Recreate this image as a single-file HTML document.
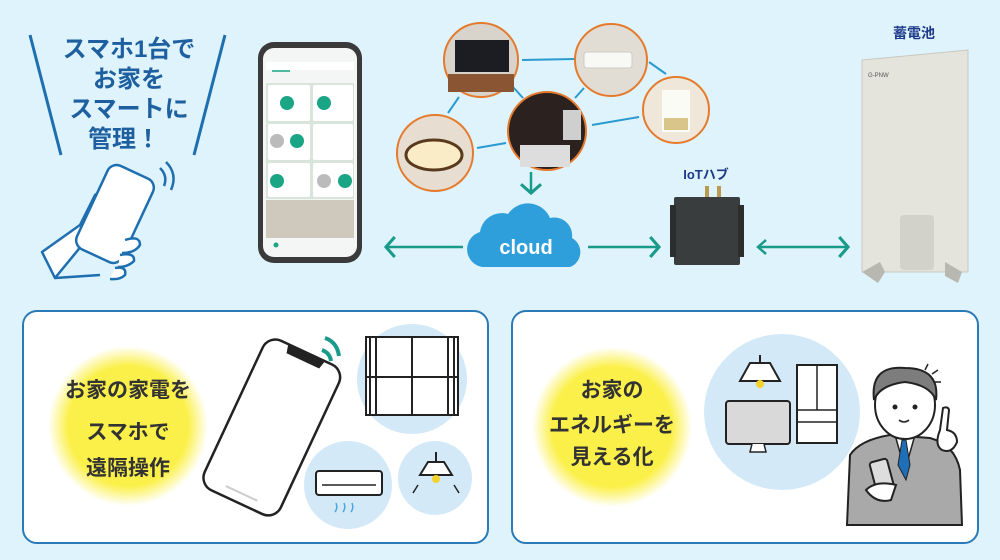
<!DOCTYPE html>
<html><head><meta charset="utf-8"><style>
body{margin:0;width:1000px;height:560px;overflow:hidden;background:#def3fb;font-family:"Liberation Sans","Noto Sans CJK JP",sans-serif;}
svg{position:absolute;left:0;top:0}
</style></head><body>
<svg width="1000" height="560" viewBox="0 0 1000 560">
<defs>
<radialGradient id="yg"><stop offset="0.75" stop-color="#fbf04a"/><stop offset="1" stop-color="#fbf04a" stop-opacity="0"/></radialGradient>
<marker id="ah" markerWidth="10" markerHeight="10" refX="0" refY="0" orient="auto" viewBox="-10 -10 20 20"><path d="M-7,-8 L0,0 L-7,8" fill="none" stroke="#1a9a8a" stroke-width="2.5"/></marker>
</defs>
<!-- title -->
<line x1="30" y1="35" x2="61" y2="155" stroke="#1e6fb0" stroke-width="3"/>
<line x1="225" y1="35" x2="194" y2="155" stroke="#1e6fb0" stroke-width="3"/>
<g font-size="24" font-weight="bold" fill="#1e5fa0" text-anchor="middle">
<text x="129" y="57">スマホ1台で</text><text x="129" y="87">お家を</text><text x="129" y="117">スマートに</text><text x="124" y="147">管理！</text></g>
<!-- hand -->
<g stroke="#1e6fb0" stroke-width="2.5" fill="#fff" stroke-linejoin="round">
<path d="M42,252 L80,225 L95,195 L102,190 L98,220 L78,250 L55,278 Z"/>
<rect x="90" y="168" width="50" height="92" rx="10" transform="rotate(25 115 214)"/>
<path d="M125,240 q15,-5 15,5 q-5,8 -18,8 M120,255 q15,-3 14,6 q-6,6 -16,6 M115,268 q12,-2 10,7 q-5,5 -15,4 M55,278 L100,275"/>
</g>
<path d="M160,168 q8,8 4,18 M166,162 q12,12 5,28" stroke="#1e6fb0" stroke-width="2.5" fill="none"/>
<!-- smartphone -->
<rect x="258" y="42" width="104" height="221" rx="16" fill="#3a3a3a"/>
<rect x="263" y="48" width="94" height="209" rx="11" fill="#f4f6f5"/>
<rect x="266" y="83" width="88" height="116" fill="#d9e4da"/>
<g fill="#fff"><rect x="268" y="85" width="42" height="36" rx="2"/><rect x="313" y="85" width="40" height="36" rx="2"/><rect x="268" y="124" width="42" height="36" rx="2"/><rect x="313" y="124" width="40" height="36" rx="2"/><rect x="268" y="163" width="42" height="34" rx="2"/><rect x="313" y="163" width="40" height="34" rx="2"/></g>
<g fill="#1aa585"><circle cx="287" cy="103" r="7"/><circle cx="324" cy="103" r="7"/><circle cx="297" cy="141" r="7"/><circle cx="277" cy="181" r="7"/><circle cx="345" cy="181" r="7"/></g>
<circle cx="277" cy="141" r="7" fill="#bbb"/><circle cx="324" cy="181" r="7" fill="#bbb"/>
<rect x="266" y="200" width="88" height="38" fill="#cfc8bd"/>
<rect x="266" y="62" width="88" height="8" fill="#fff"/><line x1="272" y1="71" x2="290" y2="71" stroke="#1aa585" stroke-width="1.5"/>
<circle cx="276" cy="245" r="2.5" fill="#1aa585"/>
<!-- connection lines -->
<g stroke="#2a9ad0" stroke-width="2"><line x1="522" y1="60" x2="575" y2="59"/><line x1="513" y1="87" x2="523" y2="98"/><line x1="448" y1="113" x2="459" y2="97"/><line x1="477" y1="148" x2="506" y2="143"/><line x1="575" y1="98" x2="584" y2="88"/><line x1="592" y1="125" x2="639" y2="117"/><line x1="649" y1="62" x2="666" y2="74"/></g>
<!-- photo circles -->
<circle cx="481" cy="60" r="37" fill="#d8d4cc" stroke="#e57a2c" stroke-width="2"/>
<rect x="455" y="40" width="54" height="32" fill="#1b1d22"/><rect x="448" y="74" width="66" height="18" fill="#8a5533"/>
<circle cx="611" cy="60" r="36" fill="#e2ddd4" stroke="#e57a2c" stroke-width="2"/>
<rect x="584" y="52" width="48" height="16" rx="3" fill="#f8f8f5" stroke="#ccc"/>
<circle cx="676" cy="110" r="33" fill="#efe7da" stroke="#e57a2c" stroke-width="2"/>
<rect x="662" y="90" width="28" height="42" fill="#fbfbf6"/><rect x="664" y="118" width="24" height="12" fill="#d9c58a"/>
<circle cx="547" cy="131" r="39" fill="#2b2220" stroke="#e57a2c" stroke-width="2"/>
<rect x="563" y="110" width="18" height="30" fill="#cfcfcf"/><rect x="520" y="145" width="50" height="22" fill="#ddd"/>
<circle cx="435" cy="153" r="38" fill="#e7ddd0" stroke="#e57a2c" stroke-width="2"/>
<ellipse cx="434" cy="155" rx="28" ry="15" fill="#fbecc8" stroke="#5a3a1c" stroke-width="3"/>
<!-- arrows -->
<line x1="531" y1="172" x2="531" y2="193" stroke="#1a9a8a" stroke-width="2.5" marker-end="url(#ah)"/>
<line x1="463" y1="247" x2="386" y2="247" stroke="#1a9a8a" stroke-width="2.5" marker-end="url(#ah)"/>
<line x1="588" y1="247" x2="659" y2="247" stroke="#1a9a8a" stroke-width="2.5" marker-end="url(#ah)"/>
<line x1="760" y1="247" x2="848" y2="247" stroke="#1a9a8a" stroke-width="2.5" marker-end="url(#ah)"/>
<path d="M766,240 L758,247 L766,254" fill="none" stroke="#1a9a8a" stroke-width="2.5"/>
<!-- cloud -->
<path d="M482,267 a18,18 0 0 1 -2,-35 a22,22 0 0 1 28,-18 a24,24 0 0 1 42,4 a18,18 0 0 1 22,20 a16,16 0 0 1 -2,29 Z" fill="#2f9fdc"/>
<text x="526" y="254" font-size="20" font-weight="bold" fill="#fff" text-anchor="middle">cloud</text>
<!-- IoT hub -->
<text x="706" y="179" font-size="13" font-weight="bold" fill="#1d3a8a" text-anchor="middle">IoTハブ</text>
<rect x="705" y="186" width="4" height="12" fill="#b89a50"/><rect x="717" y="186" width="4" height="12" fill="#b89a50"/>
<rect x="674" y="197" width="66" height="68" rx="2" fill="#3a3d3d"/>
<rect x="670" y="205" width="6" height="52" fill="#2c2e2e"/><rect x="738" y="205" width="6" height="52" fill="#2c2e2e"/>
<!-- battery -->
<text x="914" y="38" font-size="14" font-weight="bold" fill="#1d3a8a" text-anchor="middle">蓄電池</text>
<path d="M862,60 L968,50 L968,272 L862,272 Z" fill="#e4e4dc" stroke="#c8c8c0"/>
<rect x="900" y="215" width="34" height="55" rx="4" fill="#d2d2ca"/>
<path d="M862,272 L880,262 L885,272 L878,283 Z M945,262 L962,272 L958,283 L945,276 Z" fill="#b8b8b0"/>
<text x="868" y="77" font-size="6" fill="#555">G-PNW</text>
<!-- bottom panels -->
<rect x="23" y="311" width="465" height="232" rx="14" fill="#fff" stroke="#2a7ab8" stroke-width="2"/>
<rect x="512" y="311" width="466" height="232" rx="14" fill="#fff" stroke="#2a7ab8" stroke-width="2"/>
<circle cx="128" cy="426" r="80" fill="url(#yg)"/>
<circle cx="612" cy="427" r="80" fill="url(#yg)"/>
<g font-size="21" font-weight="bold" fill="#333" text-anchor="middle">
<text x="128" y="397">お家の家電を</text><text x="128" y="439">スマホで</text><text x="128" y="475">遠隔操作</text>
<text x="612" y="397">お家の</text><text x="612" y="432">エネルギーを</text><text x="612" y="464">見える化</text></g>
<!-- left panel illustrations -->
<circle cx="412" cy="379" r="55" fill="#d3e9f7"/>
<circle cx="348" cy="485" r="44" fill="#d3e9f7"/>
<circle cx="435" cy="478" r="37" fill="#d3e9f7"/>
<g transform="rotate(25 272 427)">
<rect x="230" y="345" width="84" height="165" rx="14" fill="#fff" stroke="#222" stroke-width="2.5"/>
<path d="M252,346 L292,346 L290,354 L254,354 Z" fill="#222"/>
<line x1="255" y1="500" x2="290" y2="500" stroke="#ccc" stroke-width="2"/>
</g>
<path d="M325,338 q12,4 14,18 M322,350 q8,3 9,11" stroke="#1a9a8a" stroke-width="4" fill="none"/>
<g stroke="#222" stroke-width="2" fill="#fff"><rect x="366" y="337" width="92" height="78"/><line x1="412" y1="337" x2="412" y2="415"/><line x1="366" y1="377" x2="458" y2="377"/></g>
<g stroke="#222" stroke-width="2"><line x1="370" y1="337" x2="370" y2="415"/><line x1="376" y1="337" x2="376" y2="415"/><line x1="448" y1="337" x2="448" y2="415"/><line x1="454" y1="337" x2="454" y2="415"/></g>
<rect x="316" y="471" width="66" height="24" rx="3" fill="#fff" stroke="#222" stroke-width="2"/>
<line x1="322" y1="485" x2="376" y2="485" stroke="#222" stroke-width="1.5"/>
<path d="M336,503 q2,5 -1,9 M344,503 q2,5 -1,9 M352,503 q2,5 -1,9" stroke="#4aa8dc" stroke-width="1.5" fill="none"/>
<line x1="436" y1="452" x2="436" y2="462" stroke="#222" stroke-width="2"/>
<path d="M420,475 L428,462 L444,462 L452,475 Z" fill="#fff" stroke="#222" stroke-width="2"/>
<circle cx="436" cy="479" r="4" fill="#f3d22a"/>
<path d="M418,485 l-5,8 M454,485 l5,8" stroke="#222" stroke-width="1.5"/>
<!-- right panel illustrations -->
<circle cx="782" cy="412" r="78" fill="#d3e9f7"/>
<line x1="760" y1="355" x2="760" y2="362" stroke="#222" stroke-width="2"/>
<path d="M740,381 L750,363 L770,363 L780,381 Z" fill="#fff" stroke="#222" stroke-width="2"/>
<circle cx="760" cy="384" r="4" fill="#f3d22a"/>
<rect x="797" y="365" width="40" height="78" fill="#fff" stroke="#222" stroke-width="2"/>
<line x1="817" y1="365" x2="817" y2="410" stroke="#222" stroke-width="1.5"/><line x1="797" y1="410" x2="837" y2="410" stroke="#222" stroke-width="1.5"/><line x1="797" y1="422" x2="837" y2="422" stroke="#222" stroke-width="1.5"/>
<rect x="726" y="401" width="64" height="43" rx="3" fill="#d9d9d9" stroke="#222" stroke-width="2"/>
<path d="M752,444 L750,452 L766,452 L764,444" fill="#fff" stroke="#222" stroke-width="1.5"/>
<!-- man -->
<path d="M847,525 L850,455 Q860,440 890,435 L930,438 Q955,445 960,470 L962,525 Z" fill="#a9a9a9" stroke="#222" stroke-width="2"/>
<path d="M895,435 L905,470 L915,435 Z" fill="#fff" stroke="#222" stroke-width="1.5"/>
<path d="M902,440 L898,465 L906,480 L910,465 L906,440 Z" fill="#1e6fb8" stroke="#222" stroke-width="1"/>
<ellipse cx="905" cy="405" rx="30" ry="34" fill="#fff" stroke="#222" stroke-width="2"/>
<path d="M874,400 Q870,365 905,368 Q940,368 936,400 Q930,385 905,382 Q880,385 874,400 Z" fill="#7d7d7d" stroke="#222" stroke-width="2"/>
<circle cx="895" cy="407" r="2.5" fill="#222"/><circle cx="915" cy="407" r="2.5" fill="#222"/>
<path d="M899,420 q5,4 10,0" stroke="#222" stroke-width="1.5" fill="none"/>
<rect x="873" y="460" width="18" height="32" rx="3" fill="#ddd" stroke="#222" stroke-width="2" transform="rotate(-15 882 476)"/>
<path d="M866,490 q10,-10 30,-5 l-5,15 q-15,4 -25,-10 Z" fill="#fff" stroke="#222" stroke-width="2"/>
<path d="M940,430 l3,-22 q5,-2 6,2 l-2,20 q10,2 10,12 q-5,12 -15,8 q-8,-5 -2,-20 Z" fill="#fff" stroke="#222" stroke-width="2"/>
<path d="M925,370 l3,-6 M932,374 l6,-4 M935,382 l6,0" stroke="#222" stroke-width="1.5"/>
</svg>
</body></html>
